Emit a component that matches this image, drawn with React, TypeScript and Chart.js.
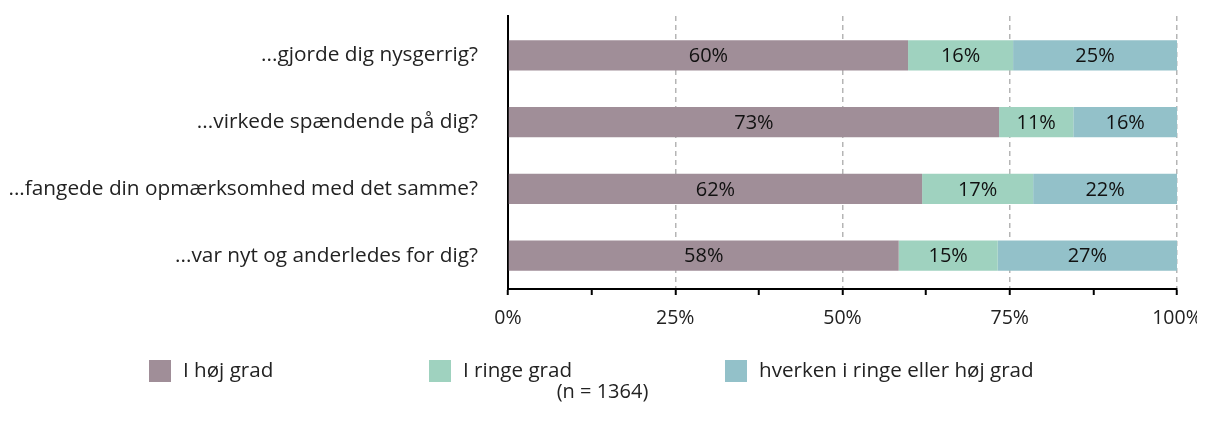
import React, { useEffect, useRef } from 'react';
import { Chart, registerables } from 'chart.js';

Chart.register(...registerables);

const categories = [
  '...gjorde dig nysgerrig?',
  '...virkede spændende på dig?',
  '...fangede din opmærksomhed med det samme?',
  '...var nyt og anderledes for dig?',
];
const seriesNames = ['I høj grad', 'I ringe grad', 'hverken i ringe eller høj grad'];
const hoejGrad = [59.8, 73.4, 61.9, 58.4];
const ringeGrad = [15.7, 11.1, 16.6, 14.8];
const hverken = [24.5, 15.5, 21.5, 26.8];
const xTickValues = [0, 25, 50, 75, 100];
const sampleNote = '(n = 1364)';

const COLORS = ['#a08e98', '#9fd2bf', '#93c1c9'];
const FONT = '"Open Sans", "Noto Sans", sans-serif';
const LEGEND_X = [149, 429, 725];

const barLabelPlugin = {
  id: 'barLabels',
  afterDatasetsDraw(chart: any) {
    const ctx = chart.ctx;
    ctx.save();
    ctx.font = `20px ${FONT}`;
    ctx.fillStyle = '#111';
    ctx.textAlign = 'center';
    ctx.textBaseline = 'middle';
    chart.data.datasets.forEach((ds: any, di: number) => {
      const meta = chart.getDatasetMeta(di);
      meta.data.forEach((el: any, i: number) => {
        const p = el.getProps(['x', 'y', 'base'], true);
        ctx.fillText(Math.round(ds.data[i]) + '%', (p.x + p.base) / 2, p.y + 1);
      });
    });
    ctx.restore();
  },
};

const legendPlugin = {
  id: 'customLegend',
  afterDraw(chart: any) {
    const ctx = chart.ctx;
    ctx.save();
    ctx.font = `20.6px ${FONT}`;
    ctx.textBaseline = 'middle';
    ctx.textAlign = 'left';
    chart.data.datasets.forEach((ds: any, i: number) => {
      const x = LEGEND_X[i];
      ctx.fillStyle = ds.backgroundColor;
      ctx.fillRect(x, 352, 22, 22);
      ctx.fillStyle = '#222';
      ctx.fillText(ds.label, x + 34, 363);
    });
    ctx.textAlign = 'center';
    ctx.font = `20px ${FONT}`;
    ctx.fillText(sampleNote, chart.width / 2, 384);
    ctx.restore();
  },
};

export default function App() {
  const ref = useRef<HTMLCanvasElement | null>(null);
  useEffect(() => {
    if (!ref.current) return;
    document.body.style.overflow = 'hidden';
    const series = [hoejGrad, ringeGrad, hverken];
    const chart = new Chart(ref.current, {
      type: 'bar',
      data: {
        labels: categories,
        datasets: series.map((d, i) => ({
          label: seriesNames[i],
          data: d,
          backgroundColor: COLORS[i],
          borderWidth: 0,
          categoryPercentage: 1,
          barPercentage: 0.45,
        })),
      },
      options: {
        indexAxis: 'y',
        animation: false,
        responsive: true,
        maintainAspectRatio: false,
        layout: { padding: { top: 8, right: 28, bottom: 81, left: 8 } },
        plugins: {
          legend: { display: false },
          tooltip: { enabled: false },
        },
        scales: {
          x: {
            stacked: true,
            min: 0,
            max: 100,
            afterBuildTicks: (scale: any) => {
              const t: any[] = [];
              for (let k = 0; k < xTickValues.length; k++) {
                t.push({ value: xTickValues[k] });
                if (k < xTickValues.length - 1) t.push({ value: (xTickValues[k] + xTickValues[k + 1]) / 2 });
              }
              scale.ticks = t;
            },
            afterFit: (scale: any) => {
              scale.height = 40;
              scale.paddingLeft = 0;
              scale.paddingRight = 0;
            },
            ticks: {
              autoSkip: false,
              maxRotation: 0,
              padding: 12,
              color: '#222',
              font: { family: FONT, size: 19.5 },
              callback: (v: any) => (xTickValues.includes(Number(v)) ? v + '%' : ''),
            },
            grid: {
              color: (c: any) =>
                c.tick && xTickValues.includes(c.tick.value) && c.tick.value !== 0 ? '#b5b5b5' : 'rgba(0,0,0,0)',
              lineWidth: 1.5,
              drawTicks: true,
              tickLength: 6,
              tickColor: '#000',
              tickWidth: 2,
            },
            border: { display: true, color: '#000', width: 2, dash: [5, 4] },
          },
          y: {
            stacked: true,
            offset: false,
            afterBuildTicks: (scale: any) => {
              scale.ticks = categories.map((_, i) => ({ value: i }));
              scale._startValue = -0.59;
              scale._valueRange = categories.length + 0.09;
            },
            afterFit: (scale: any) => {
              scale.width = 500;
              scale.paddingTop = 0;
              scale.paddingBottom = 0;
            },
            ticks: {
              padding: 30,
              color: '#222',
              font: { family: FONT, size: 20.8 },
            },
            grid: { display: false, drawTicks: false },
            border: { display: true, color: '#000', width: 2 },
          },
        },
      },
      plugins: [barLabelPlugin, legendPlugin],
    });
    return () => chart.destroy();
  }, []);
  return (
    <div style={{ width: 1205, height: 402, marginLeft: -8, position: 'relative' }}>
      <canvas ref={ref} />
    </div>
  );
}
